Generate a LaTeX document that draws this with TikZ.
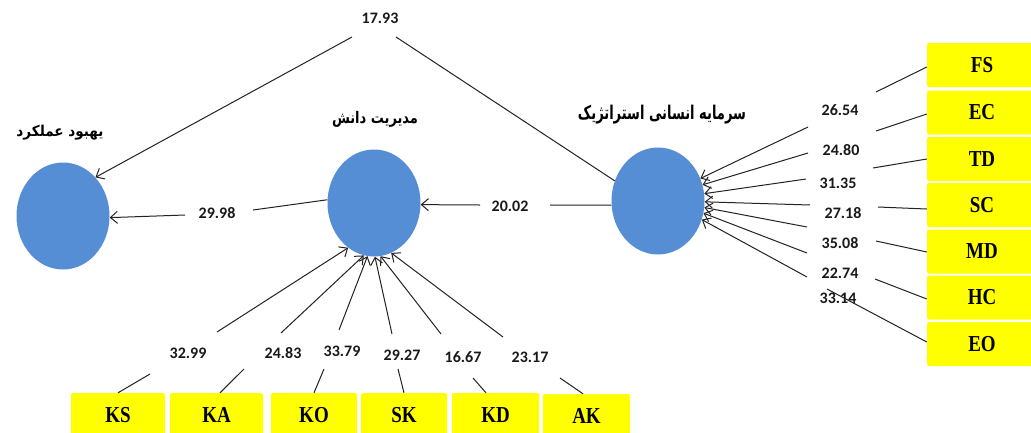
\documentclass[tikz,border=0pt]{standalone}
\usepackage{fontspec}
\setmainfont{Liberation Serif}
\newfontfamily\numfont{Carlito}
\newfontfamily\arabicfont[Script=Arabic]{DejaVu Sans}
\TeXXeTstate=1
\usetikzlibrary{arrows.meta,shapes.geometric}
\definecolor{ellblue}{RGB}{85,142,213}
\definecolor{boxyellow}{RGB}{255,255,0}
\definecolor{linegray}{RGB}{35,35,35}
\begin{document}
\begin{tikzpicture}[x=1pt,y=-1pt,
  lat/.style={ellipse, fill=ellblue, minimum width=93pt, minimum height=107pt, inner sep=0pt},
  ind/.style={fill=boxyellow, rounded corners=2pt, inner sep=0pt, text=black,
    font=\bfseries\fontsize{19}{19}\selectfont},
  rbox/.style={ind, minimum width=110pt, minimum height=44pt},
  bbox/.style={ind, minimum height=44pt},
  val/.style={font=\numfont\bfseries\fontsize{16}{16}\selectfont, inner sep=0pt, text=black!90},
  ttl/.style={font=\arabicfont\bfseries, inner sep=0pt, text=black},
  con/.style={draw=linegray, line width=1pt},
  arr/.style={con, -{Straight Barb[length=7pt,width=12pt]}}]
\useasboundingbox (0,0) rectangle (1031,432);
\fill[white] (0,0) rectangle (1031,432);
\clip (0,0) rectangle (1031,432);

% latent variables
\node[lat] (L) at (63,216) {};
\node[lat] (M) at (374,203) {};
\node[lat] (R) at (658,201) {};

% titles
\node[ttl] (tL) at (60,133) {\resizebox*{87pt}{15pt}{\beginR یهبود عملکرد\endR}};
\node[ttl] (tM) at (375,119) {\resizebox*{86pt}{16pt}{\beginR مدیریت دانش\endR}};
\node[ttl] (tR) at (662,115) {\resizebox*{168pt}{19pt}{\beginR سرمایه انسانی استراتژیک\endR}};

% right indicators
\node[rbox] (FS) at (982,65) {\scalebox{1}[1.2]{FS}};
\node[rbox] (EC) at (982,112.5) {\scalebox{1}[1.2]{EC}};
\node[rbox] (TD) at (982,159) {\scalebox{1}[1.2]{TD}};
\node[rbox] (SC) at (982,205) {\scalebox{1}[1.2]{SC}};
\node[rbox] (MD) at (982,251.5) {\scalebox{1}[1.2]{MD}};
\node[rbox] (HC) at (982,297.5) {\scalebox{1}[1.2]{HC}};
\node[rbox] (EO) at (982,344) {\scalebox{1}[1.2]{EO}};

% bottom indicators
\node[bbox, minimum width=94pt] (KS) at (118,415) {\scalebox{1}[1.2]{KS}};
\node[bbox, minimum width=93pt] (KA) at (216.5,415) {\scalebox{1}[1.2]{KA}};
\node[bbox, minimum width=86pt] (KO) at (314,415) {\scalebox{1}[1.2]{KO}};
\node[bbox, minimum width=86pt] (SK) at (404,415) {\raisebox{-4pt}{\scalebox{1}[1.2]{SK}}};
\node[bbox, minimum width=87pt] (KD) at (495.5,415) {\scalebox{1}[1.2]{KD}};
\node[bbox, minimum width=87pt] (AK) at (586.5,416) {\scalebox{1}[1.2]{AK}};

% value labels
\node[val] (v1793) at (380,18) {17.93};
\node[val] (v2998) at (217,213) {29.98};
\node[val] (v2002) at (510,206) {20.02};
\node[val] (v2654) at (840,110) {26.54};
\node[val] (v2480) at (841,150) {24.80};
\node[val] (v3135) at (838,183) {31.35};
\node[val] (v2718) at (843,213) {27.18};
\node[val] (v3508) at (840,243) {35.08};
\node[val] (v2274) at (840,273) {22.74};
\node[val] (v3314) at (838,298) {33.14};
\node[val] (v3299) at (188,353) {32.99};
\node[val] (v2483) at (283,353) {24.83};
\node[val] (v3379) at (342,351) {33.79};
\node[val] (v2927) at (402,355) {29.27};
\node[val] (v1667) at (463,357) {16.67};
\node[val] (v2317) at (530,357) {23.17};

% gap end coordinates
\coordinate (t1) at (352,37);
\coordinate (t2) at (396,37);
\coordinate (a1) at (253,210); \coordinate (a2) at (185,215);
\coordinate (b1) at (550,205); \coordinate (b2) at (480,205);
\coordinate (fs1) at (876,92);  \coordinate (fs2) at (808,127);
\coordinate (ec1) at (876,131); \coordinate (ec2) at (808,153);
\coordinate (td1) at (873,168); \coordinate (td2) at (806,179);
\coordinate (sc1) at (878,207); \coordinate (sc2) at (810,205);
\coordinate (md1) at (876,241); \coordinate (md2) at (807,227);
\coordinate (hc1) at (875,279); \coordinate (hc2) at (807,253);
\coordinate (eo1) at (827,289); \coordinate (eo2) at (807,277);
\coordinate (ks1) at (150,374); \coordinate (ks2) at (217,332);
\coordinate (ka1) at (244,369); \coordinate (ka2) at (281,333);
\coordinate (ko1) at (324,369); \coordinate (ko2) at (339,330);
\coordinate (sk1) at (398,369); \coordinate (sk2) at (392,334);
\coordinate (kd1) at (473,378); \coordinate (kd2) at (441,334);
\coordinate (ak1) at (560,378); \coordinate (ak2) at (503,337);

% structural paths
\draw[arr] (t1) -- (L.50);
\draw[con] (R.155) -- (t2);
\draw[con] (M.176) -- (a1);
\draw[arr] (a2) -- (L.-2);
\draw[con] (R.185) -- (b1);
\draw[arr] (b2) -- (M.-2);

% right measurement paths
\draw[con] (FS.west |- 0,67) -- (fs1);  \draw[arr] (fs2) -- (R.28);
\draw[con] (EC.west |- 0,114) -- (ec1); \draw[arr] (ec2) -- (R.20);
\draw[con] (TD.west |- 0,159) -- (td1); \draw[arr] (td2) -- (R.9);
\draw[con] (SC.west |- 0,209) -- (sc1); \draw[arr] (sc2) -- (R.-1);
\draw[con] (MD.west |- 0,252) -- (md1); \draw[arr] (md2) -- (R.-8);
\draw[con] (HC.west |- 0,299) -- (hc1); \draw[arr] (hc2) -- (R.-15);
\draw[con] (EO.west |- 0,342) -- (eo1); \draw[arr] (eo2) -- (R.-23);

% bottom measurement paths
\draw[con] (KS.north) -- (ks1); \draw[arr] (ks2) -- (M.-120);
\draw[con] (KA.north -| 220,0) -- (ka1); \draw[arr] (ka2) -- (M.-101);
\draw[con] (KO.north) -- (ko1); \draw[arr] (ko2) -- (M.-97);
\draw[con] (SK.north) -- (sk1); \draw[arr] (sk2) -- (M.-89);
\draw[con] (KD.north -| 486,0) -- (kd1); \draw[arr] (kd2) -- (M.-83);
\draw[con] (AK.north -| 583,0) -- (ak1); \draw[arr] (ak2) -- (M.-71);
\end{tikzpicture}
\end{document}
